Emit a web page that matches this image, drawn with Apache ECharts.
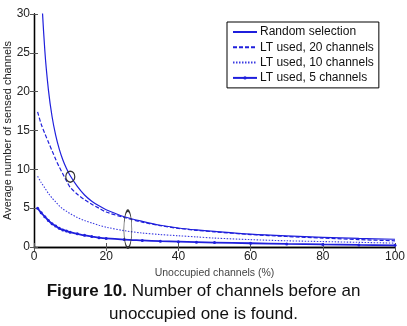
<!DOCTYPE html>
<html>
<head>
<meta charset="utf-8">
<script src="https://cdn.jsdelivr.net/npm/echarts@6/dist/echarts.min.js"></script>
<style>
  html, body { margin: 0; padding: 0; background: #fff; }
  #chart { width: 407px; height: 326px; }
</style>
</head>
<body>
<div id="chart"></div>
<script>
// values
var unoccupied = [1, 2, 3, 4, 5, 6, 7, 8, 9, 10, 12, 14, 16, 18, 20, 25, 30, 35, 40, 45, 50, 60, 70, 80, 90, 100];
var randomSel  = [50, 33.7, 25.3, 20.2, 16.8, 14.4, 12.6, 11.2, 10.1, 9.2, 7.8, 6.7, 5.9, 5.3, 4.8, 3.9, 3.3, 2.8, 2.45, 2.2, 2.0, 1.65, 1.42, 1.25, 1.1, 1.0];
var lt20       = [17.4, 15.8, 14.6, 13.5, 12.4, 11.3, 10.3, 9.4, 8.5, 7.7, 6.8, 6.1, 5.5, 5.0, 4.5, 3.8, 3.2, 2.75, 2.4, 2.15, 1.95, 1.6, 1.35, 1.15, 0.95, 0.8];
var lt10       = [9.1, 8.3, 7.6, 6.9, 6.3, 5.8, 5.3, 4.9, 4.6, 4.3, 3.8, 3.4, 3.1, 2.8, 2.55, 2.1, 1.8, 1.6, 1.45, 1.3, 1.15, 0.95, 0.8, 0.7, 0.6, 0.5];
var lt5        = [5.0, 4.4, 3.9, 3.4, 3.0, 2.7, 2.4, 2.2, 2.05, 1.9, 1.7, 1.5, 1.35, 1.2, 1.1, 0.95, 0.85, 0.75, 0.68, 0.62, 0.57, 0.48, 0.4, 0.33, 0.27, 0.22];
var xTicks = [0, 20, 40, 60, 80, 100];
var yTicks = [0, 5, 10, 15, 20, 25, 30];
var names = ['Random selection', 'LT used, 20 channels', 'LT used, 10 channels', 'LT used, 5 channels'];

function pairs(ys) {
  return unoccupied.map(function (x, i) { return [x, ys[i]]; });
}

var blue = '#1f1fdc';
var font = 'Liberation Sans, Arial, sans-serif';

var chart = echarts.init(document.getElementById('chart'));

var ringStyle = { color: 'transparent', borderColor: '#333', borderWidth: 1.3 };

chart.setOption({
  animation: false,
  textStyle: { fontFamily: font },
  grid: { left: 34, right: 12, top: 14, bottom: 79, containLabel: false, outerBoundsMode: 'none' },
  legend: {
    orient: 'vertical',
    left: 227, top: 22,
    width: 150,
    padding: [4, 5, 4, 5],
    itemGap: 3.3,
    itemWidth: 24,
    itemHeight: 4,
    borderColor: '#000',
    borderWidth: 1,
    backgroundColor: '#fff',
    textStyle: { fontSize: 12, color: '#111', fontFamily: font, padding: [0, 0, 0, -2] },
    data: [
      { name: names[0], itemStyle: { opacity: 0 } },
      { name: names[1], itemStyle: { opacity: 0 } },
      { name: names[2], itemStyle: { opacity: 0 } },
      { name: names[3] }
    ]
  },
  xAxis: [{
    type: 'value', min: 0, max: 100, interval: 20,
    name: 'Unoccupied channels (%)', nameLocation: 'middle', nameGap: 20,
    nameTextStyle: { fontSize: 10.5, color: '#444' },
    axisLine: { lineStyle: { color: '#000', width: 1.3 } },
    axisTick: { inside: true, length: 4, lineStyle: { color: '#555' } },
    axisLabel: { fontSize: 12, color: '#222', margin: 4,
      formatter: function (v) { return xTicks.indexOf(v) >= 0 ? v : ''; } },
    splitLine: { show: false }
  }, {
    type: 'value', min: 0, max: 100, interval: 20, position: 'top',
    axisLine: { show: true, lineStyle: { color: '#000', width: 1.3 } },
    axisTick: { inside: true, length: 4, lineStyle: { color: '#555' } },
    axisLabel: { show: false }, splitLine: { show: false }
  }],
  yAxis: [{
    type: 'value', min: 0, max: 30, interval: 5,
    name: 'Average number of sensed channels', nameLocation: 'middle', nameGap: 21,
    nameMoveOverlap: false,
    nameTextStyle: { fontSize: 11, color: '#222' },
    axisLine: { show: true, lineStyle: { color: '#000', width: 1.3 } },
    axisTick: { show: true, inside: true, length: 4, lineStyle: { color: '#555' } },
    axisLabel: { fontSize: 12, color: '#222', margin: 4,
      formatter: function (v) { return yTicks.indexOf(v) >= 0 ? v : ''; } },
    splitLine: { show: false }
  }, {
    type: 'value', min: 0, max: 30, interval: 5, position: 'right',
    axisLine: { show: true, lineStyle: { color: '#000', width: 1.3 } },
    axisTick: { show: true, inside: true, length: 4, lineStyle: { color: '#555' } },
    axisLabel: { show: false }, splitLine: { show: false }
  }],
  series: [{
    name: names[0], type: 'line', data: pairs(randomSel),
    smooth: 0.3, symbol: 'none', clip: true,
    lineStyle: { color: blue, width: 1.2 }, itemStyle: { color: blue },
    markPoint: {
      symbol: 'circle', label: { show: false }, itemStyle: ringStyle,
      data: [{ coord: [10.05, 9.05], symbolSize: [9, 11] }]
    }
  }, {
    name: names[1], type: 'line', data: pairs(lt20),
    smooth: 0.3, symbol: 'none',
    lineStyle: { color: blue, width: 1.2, type: [4, 2] }, itemStyle: { color: blue }
  }, {
    name: names[2], type: 'line', data: pairs(lt10),
    smooth: 0.3, symbol: 'none',
    lineStyle: { color: '#3a3ae2', width: 1.1, type: [1.5, 1.5] }, itemStyle: { color: '#3a3ae2' }
  }, {
    name: names[3], type: 'line', data: pairs(lt5),
    smooth: 0.3, symbol: 'circle', symbolSize: 3, showSymbol: true,
    lineStyle: { color: blue, width: 1.8 }, itemStyle: { color: blue },
    markPoint: {
      symbol: 'circle', label: { show: false }, itemStyle: ringStyle,
      data: [{ coord: [26, 2.3], symbolSize: [8, 37] }]
    }
  }],
  graphic: [{
    type: 'text', left: 'center', top: 280,
    style: {
      text: '{b|Figure 10.} Number of channels before an\nunoccupied one is found.',
      font: '17px ' + font,
      fill: '#111',
      textAlign: 'center',
      lineHeight: 23,
      rich: { b: { fontWeight: 'bold', fontSize: 17, fontFamily: font } }
    }
  }]
});
</script>
</body>
</html>
